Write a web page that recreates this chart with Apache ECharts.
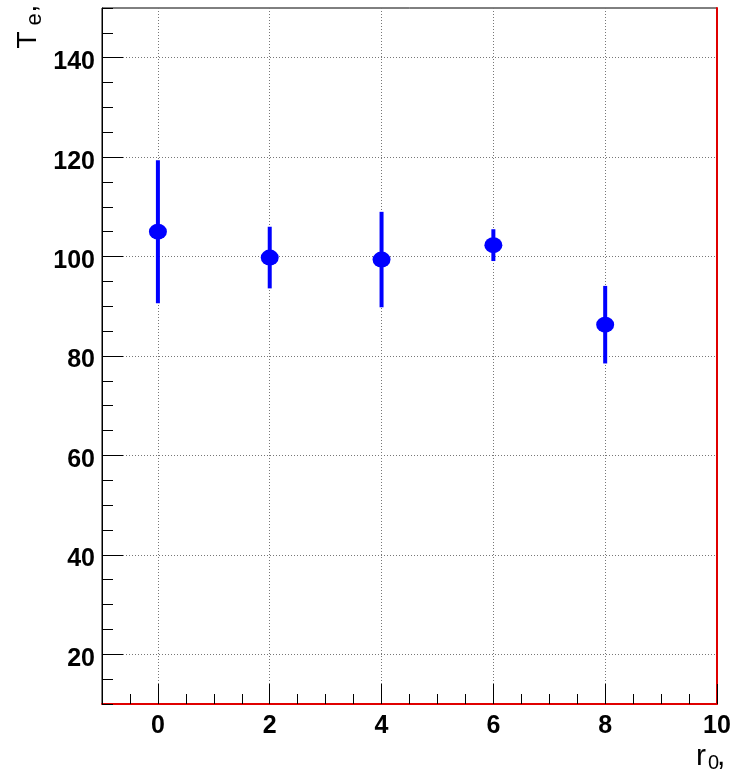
<!DOCTYPE html>
<html>
<head>
<meta charset="utf-8">
<style>
  html, body { margin: 0; padding: 0; background: #ffffff; }
  #chart { width: 737px; height: 778px; }
</style>
<script src="https://cdn.jsdelivr.net/npm/echarts@6/dist/echarts.min.js"></script>
</head>
<body>
<div id="chart"></div>
<script>
// Measured points with symmetric errors
var rValues = [0, 2, 4, 6, 8];
var teValues = [105.0, 99.8, 99.4, 102.3, 86.3];
var teErrors = [14.4, 6.2, 9.6, 3.2, 7.8];

// Axis ranges and labelled tick positions
var xRange = [-1, 10];
var yRange = [10, 150];
var xMajorTicks = [0, 2, 4, 6, 8, 10];
var yMajorTicks = [20, 40, 60, 80, 100, 120, 140];
var xMinorStep = 0.5;
var yMinorStep = 5;

var FONT = '"Liberation Sans", Arial, Helvetica, sans-serif';

var chart = echarts.init(document.getElementById('chart'), null, { renderer: 'canvas' });

var pointData = rValues.map(function (x, i) { return [x, teValues[i], teErrors[i]]; });

var gridLine = { show: true, lineStyle: { color: '#777777', width: 1, type: [1, 2] } };
var tickLabel = { color: '#000000', fontFamily: FONT, fontWeight: 'bold', fontSize: 25 };

// Rotated y-axis title pieces: baseline at screen x = bx, text starts at screen y = by.
// A local offset (along, across) maps to screen (bx + across, by - along).
var bx = 37.5, by = 48.5;
function rotText(str, size, along, across) {
  return {
    type: 'text', x: bx + across, y: by - along, rotation: Math.PI / 2,
    style: { text: str, font: size + 'px ' + FONT, fill: '#000', align: 'left', verticalAlign: 'middle' }
  };
}

var option = {
  backgroundColor: '#ffffff',
  animation: false,
  grid: {
    left: 102, top: 8, right: 20, bottom: 74,
    show: true, borderColor: '#000000', borderWidth: 1, backgroundColor: '#ffffff'
  },
  xAxis: [
    {
      type: 'value', min: xRange[0], max: xRange[1], position: 'bottom',
      axisLine: { show: true, onZero: false, lineStyle: { color: '#e00000', width: 2 } },
      axisTick: { show: true, inside: true, length: 20, customValues: xMajorTicks,
                  lineStyle: { color: '#000000', width: 1 } },
      axisLabel: Object.assign({ show: true, customValues: xMajorTicks, margin: 10 }, tickLabel),
      splitLine: gridLine
    },
    {
      type: 'value', min: xRange[0], max: xRange[1], interval: xMinorStep, position: 'bottom',
      axisLine: { show: false, onZero: false },
      axisTick: { show: true, inside: true, length: 10, lineStyle: { color: '#000000', width: 1 } },
      axisLabel: { show: false },
      splitLine: { show: false }
    }
  ],
  yAxis: [
    {
      type: 'value', min: yRange[0], max: yRange[1], position: 'left',
      axisLine: { show: true, onZero: false, lineStyle: { color: '#000000', width: 1 } },
      axisTick: { show: true, inside: true, length: 21, customValues: yMajorTicks,
                  lineStyle: { color: '#000000', width: 1 } },
      axisLabel: Object.assign({ show: true, customValues: yMajorTicks, margin: 7,
                                 verticalAlign: 'top', lineHeight: 9 }, tickLabel),
      splitLine: gridLine
    },
    {
      type: 'value', min: yRange[0], max: yRange[1], interval: yMinorStep, position: 'left',
      axisLine: { show: false, onZero: false },
      axisTick: { show: true, inside: true, length: 11, lineStyle: { color: '#000000', width: 1 } },
      axisLabel: { show: false },
      splitLine: { show: false }
    },
    {
      type: 'value', min: yRange[0], max: yRange[1], position: 'right',
      axisLine: { show: true, onZero: false, lineStyle: { color: '#e00000', width: 2 } },
      axisTick: { show: false },
      axisLabel: { show: false },
      splitLine: { show: false }
    }
  ],
  series: [
    {
      type: 'custom',
      xAxisIndex: 0, yAxisIndex: 0,
      data: pointData,
      encode: { x: 0, y: 1 },
      z: 3,
      renderItem: function (params, api) {
        var x = api.value(0), y = api.value(1), e = api.value(2);
        var lo = api.coord([x, y - e]);
        var hi = api.coord([x, y + e]);
        return {
          type: 'line',
          shape: { x1: lo[0], y1: lo[1], x2: hi[0], y2: hi[1] },
          style: { stroke: '#0000ff', lineWidth: 4 }
        };
      }
    },
    {
      type: 'scatter',
      xAxisIndex: 0, yAxisIndex: 0,
      data: pointData.map(function (d) { return [d[0], d[1]]; }),
      symbol: 'circle',
      symbolSize: [18, 16],
      itemStyle: { color: '#0000ff', opacity: 1 },
      z: 4
    }
  ],
  graphic: [
    rotText('T', 28, 0, -9.7),
    rotText('e', 22, 23, -2.6),
    rotText(',', 28, 36, -9.7),
    { type: 'text', x: 696, y: 756.3,
      style: { text: 'r', font: '30px ' + FONT, fill: '#000', align: 'left', verticalAlign: 'middle' } },
    { type: 'text', x: 708, y: 763.1,
      style: { text: '0', font: '20px ' + FONT, fill: '#000', align: 'left', verticalAlign: 'middle' } },
    { type: 'text', x: 717, y: 756.3,
      style: { text: ',', font: '30px ' + FONT, fill: '#000', align: 'left', verticalAlign: 'middle' } }
  ]
};

chart.setOption(option);
</script>
</body>
</html>
